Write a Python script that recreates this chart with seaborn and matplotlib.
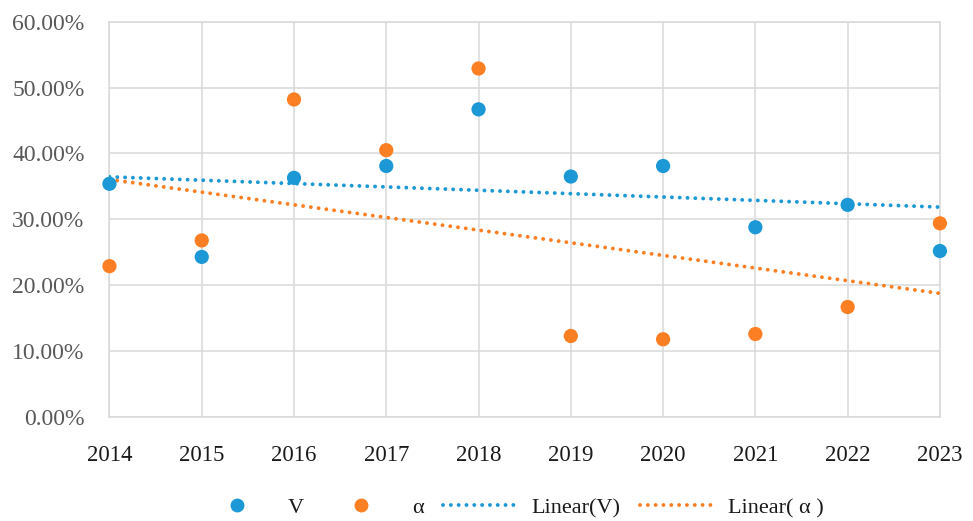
import numpy as np
import pandas as pd
import matplotlib
matplotlib.use("Agg")
import matplotlib.pyplot as plt
from matplotlib.lines import Line2D
from matplotlib.ticker import PercentFormatter
import seaborn as sns

# Annual values (percent)
years = [2014, 2015, 2016, 2017, 2018, 2019, 2020, 2021, 2022, 2023]
v_values = [35.4, 24.3, 36.3, 38.1, 46.7, 36.5, 38.1, 28.8, 32.2, 25.2]
alpha_values = [22.9, 26.8, 48.2, 40.5, 52.9, 12.3, 11.8, 12.6, 16.7, 29.4]
y_ticks = [0, 10, 20, 30, 40, 50, 60]

blue = "#1b98d5"
orange = "#fd7f23"
grid_c = "#d9d9d9"
dots = (0, (0.01, 2.0))
trend_lw = 2.8

sns.set_theme(style="white")
plt.rcParams["font.family"] = ["Liberation Serif", "DejaVu Serif"]

df = pd.DataFrame({
    "year": years * 2,
    "value": v_values + alpha_values,
    "series": ["V"] * len(years) + ["α"] * len(years),
})

# Least-squares trend lines for each series
yr = np.array(years, dtype=float)
fit_v = np.polyval(np.polyfit(yr, v_values, 1), yr)
fit_a = np.polyval(np.polyfit(yr, alpha_values, 1), yr)
trend = pd.DataFrame({
    "year": years * 2,
    "value": np.concatenate([fit_v, fit_a]),
    "series": ["Linear(V)"] * len(years) + ["Linear( α )"] * len(years),
})

fig = plt.figure(figsize=(9.73, 5.21), dpi=100)
ax = fig.add_axes([0.1125, 0.1996, 0.8535, 0.7587])

sns.lineplot(data=trend, x="year", y="value", hue="series",
             palette={"Linear(V)": blue, "Linear( α )": orange},
             linewidth=trend_lw, ax=ax, legend=False, zorder=3)
for ln in ax.lines:
    ln.set_linestyle(dots)
    ln.set_dash_capstyle("round")

sns.scatterplot(data=df, x="year", y="value", hue="series",
                palette={"V": blue, "α": orange}, s=105,
                edgecolor="none", ax=ax, legend=False, zorder=4, clip_on=False)

ax.set_xlim(2014, 2023)
ax.set_ylim(0, 60)
ax.set_xticks(years)
ax.set_yticks(y_ticks)
ax.yaxis.set_major_formatter(PercentFormatter(decimals=2))
ax.set_xlabel("")
ax.set_ylabel("")
ax.grid(True, color=grid_c, linewidth=1.1)
ax.set_axisbelow(True)
for side in ax.spines.values():
    side.set_color(grid_c)
    side.set_linewidth(1.1)
ax.tick_params(axis="y", labelsize=17, labelcolor="#595959", length=0, pad=18)
ax.tick_params(axis="x", labelsize=16.5, labelcolor="#1a1a1a", length=0, pad=20)

handles = [
    Line2D([], [], marker="o", linestyle="none", markersize=10,
           markerfacecolor=blue, markeredgecolor="none", label="V"),
    Line2D([], [], marker="o", linestyle="none", markersize=10,
           markerfacecolor=orange, markeredgecolor="none", label="α"),
    Line2D([], [], color=blue, linewidth=trend_lw, linestyle=dots,
           dash_capstyle="round", label="Linear(V)"),
    Line2D([], [], color=orange, linewidth=trend_lw, linestyle=dots,
           dash_capstyle="round", label="Linear( α )"),
]
fig.legend(handles=handles, loc="center", bbox_to_anchor=(0.526, 0.025),
           ncol=4, frameon=False, fontsize=16, handlelength=3.3,
           handletextpad=0.65, columnspacing=0.9, labelcolor="#1a1a1a")

fig.savefig("out.png", dpi=100, facecolor="white")
